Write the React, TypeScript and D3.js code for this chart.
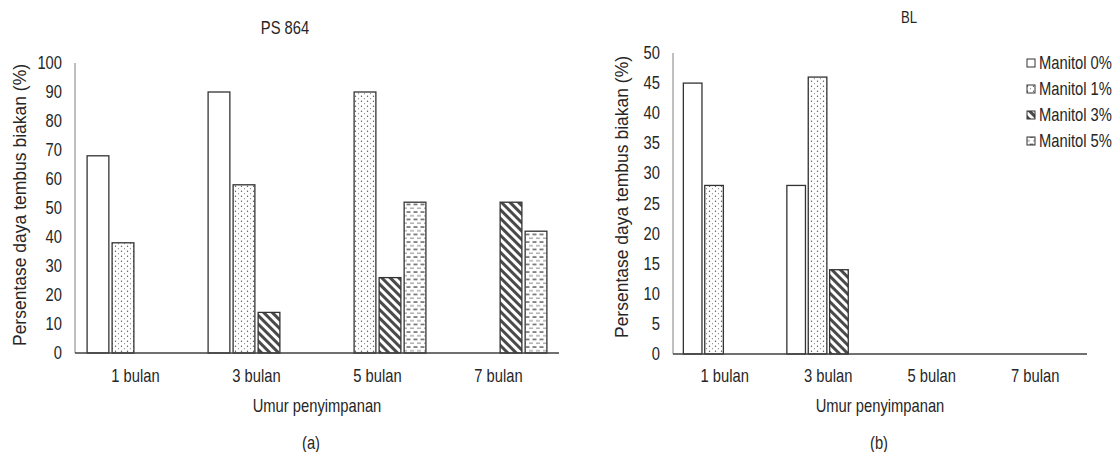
import React, { useEffect, useRef } from "react";
import * as d3 from "d3";

// kategori umur penyimpanan dan seri perlakuan manitol
const months = ["1 bulan", "3 bulan", "5 bulan", "7 bulan"];
const seriesNames = ["Manitol 0%", "Manitol 1%", "Manitol 3%", "Manitol 5%"];

// nilai per seri (urutan sesuai months)
const ps864Values = [
  [68, 90, 0, 0],
  [38, 58, 90, 0],
  [0, 14, 26, 52],
  [0, 0, 52, 42],
];
const blValues = [
  [45, 28, 0, 0],
  [28, 46, 0, 0],
  [0, 14, 0, 0],
  [0, 0, 0, 0],
];

const ps864Ticks = [0, 10, 20, 30, 40, 50, 60, 70, 80, 90, 100];
const blTicks = [0, 5, 10, 15, 20, 25, 30, 35, 40, 45, 50];

const FONT = "'Liberation Sans', Arial, sans-serif";
const TEXT = "#262626";
const SQUEEZE = 0.82;
const fills = ["#ffffff", "url(#p-dots)", "url(#p-hatch)", "url(#p-dash)"];

const App = () => {
  const svgRef = useRef(null);

  useEffect(() => {
    const svg = d3.select(svgRef.current);
    svg.selectAll("*").remove();

    // pola isi batang
    const defs = svg.append("defs");
    const dots = defs
      .append("pattern")
      .attr("id", "p-dots")
      .attr("patternUnits", "userSpaceOnUse")
      .attr("width", 6)
      .attr("height", 5);
    dots.append("rect").attr("width", 6).attr("height", 5).attr("fill", "#fff");
    dots.append("circle").attr("cx", 1.5).attr("cy", 1.2).attr("r", 0.7).attr("fill", "#555");
    dots.append("circle").attr("cx", 4.5).attr("cy", 3.7).attr("r", 0.6).attr("fill", "#888");

    const hatch = defs
      .append("pattern")
      .attr("id", "p-hatch")
      .attr("patternUnits", "userSpaceOnUse")
      .attr("width", 6)
      .attr("height", 6)
      .attr("patternTransform", "rotate(-45)");
    hatch.append("rect").attr("width", 6).attr("height", 6).attr("fill", "#fff");
    hatch.append("rect").attr("width", 3).attr("height", 6).attr("fill", "#4a4a4a");

    const dash = defs
      .append("pattern")
      .attr("id", "p-dash")
      .attr("patternUnits", "userSpaceOnUse")
      .attr("width", 7)
      .attr("height", 7.5);
    dash.append("rect").attr("width", 7).attr("height", 7.5).attr("fill", "#fff");
    dash.append("line").attr("x1", 0.5).attr("x2", 4.5).attr("y1", 2).attr("y2", 2)
      .attr("stroke", "#555").attr("stroke-width", 1.4);
    dash.append("line").attr("x1", 4).attr("x2", 7).attr("y1", 5.75).attr("y2", 5.75)
      .attr("stroke", "#999").attr("stroke-width", 1.2);
    dash.append("line").attr("x1", 0).attr("x2", 1).attr("y1", 5.75).attr("y2", 5.75)
      .attr("stroke", "#999").attr("stroke-width", 1.2);

    // teks horizontal dipadatkan (gambar asli tampak menyempit)
    const hText = (x, y, txt, size, anchor = "middle") =>
      svg
        .append("text")
        .attr("transform", `translate(${x},${y}) scale(${SQUEEZE},1)`)
        .attr("text-anchor", anchor)
        .attr("font-family", FONT)
        .attr("font-size", size)
        .attr("fill", TEXT)
        .text(txt);

    const panels = [
      {
        title: "PS 864", titleX: 285, titleY: 34, titleSize: 18,
        values: ps864Values, ticks: ps864Ticks, max: 100,
        x0: 75, x1: 559, yTop: 63, yBase: 353,
        yLabelX: 26, yLabelY: 205, caption: "(a)", captionX: 311,
      },
      {
        title: "BL", titleX: 909, titleY: 23, titleSize: 16,
        values: blValues, ticks: blTicks, max: 50,
        x0: 673, x1: 1087, yTop: 53, yBase: 354,
        yLabelX: 628, yLabelY: 197, caption: "(b)", captionX: 879,
      },
    ];

    panels.forEach((p) => {
      const x = d3.scaleBand().domain(months).range([p.x0, p.x1]).paddingInner(0.2).paddingOuter(0.1);
      const xs = d3.scaleBand().domain(seriesNames).range([0, x.bandwidth()]).paddingInner(0.13);
      const y = d3.scaleLinear().domain([0, p.max]).range([p.yBase, p.yTop]);

      // sumbu y (tanpa tanda tick)
      svg.append("line")
        .attr("x1", p.x0).attr("x2", p.x0)
        .attr("y1", y(p.max)).attr("y2", y(0))
        .attr("stroke", "#808080").attr("stroke-width", 1);

      p.ticks.forEach((t) => {
        hText(p.x0 - 13, y(t) + 6, String(t), 18, "end");
      });

      // batang
      seriesNames.forEach((s, si) => {
        months.forEach((m, mi) => {
          const v = p.values[si][mi];
          if (!v) return;
          svg.append("rect")
            .attr("x", x(m) + xs(s))
            .attr("y", y(v))
            .attr("width", xs.bandwidth())
            .attr("height", y(0) - y(v))
            .attr("fill", fills[si])
            .attr("stroke", "#333")
            .attr("stroke-width", 1.3);
        });
      });

      // garis dasar
      svg.append("line")
        .attr("x1", p.x0).attr("x2", p.x1)
        .attr("y1", y(0)).attr("y2", y(0))
        .attr("stroke", "#404040").attr("stroke-width", 1.5);

      months.forEach((m) => {
        hText(x(m) + x.bandwidth() / 2, 382, m, 18);
      });

      hText((p.x0 + p.x1) / 2, 412, "Umur penyimpanan", 18);
      hText(p.captionX, 449, p.caption, 18);
      hText(p.titleX, p.titleY, p.title, p.titleSize);

      svg.append("text")
        .attr("transform", `translate(${p.yLabelX},${p.yLabelY}) rotate(-90)`)
        .attr("text-anchor", "middle")
        .attr("font-family", FONT)
        .attr("font-size", 17.5)
        .attr("fill", TEXT)
        .text("Persentase daya tembus biakan (%)");
    });

    // legenda
    seriesNames.forEach((s, i) => {
      const cy = 63 + i * 26;
      svg.append("rect")
        .attr("x", 1027).attr("y", cy - 4)
        .attr("width", 8).attr("height", 8)
        .attr("fill", fills[i])
        .attr("stroke", "#333").attr("stroke-width", 1);
      hText(1039, cy + 6, s, 18, "start");
    });
  }, []);

  return (
    <svg
      ref={svgRef}
      width={1118}
      height={452}
      style={{ position: "absolute", left: 0, top: 0, background: "#fff" }}
    ></svg>
  );
};

export default App;
